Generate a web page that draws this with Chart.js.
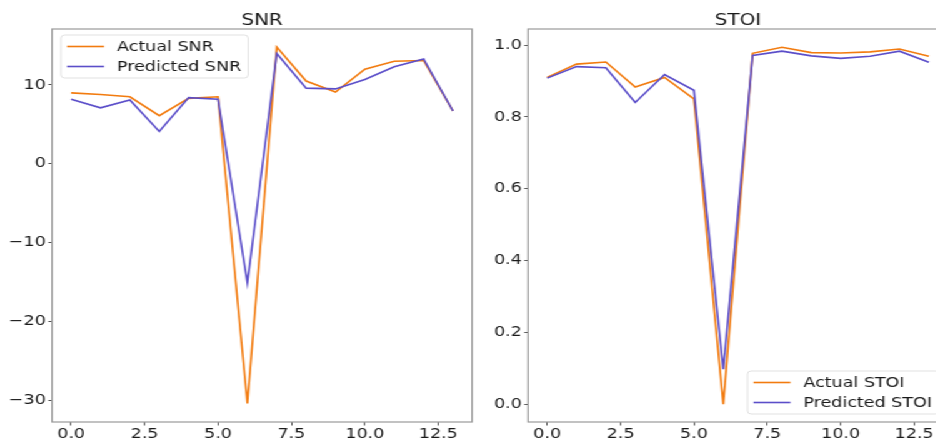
<!DOCTYPE html>
<html>
<head>
<meta charset="utf-8">
<script src="https://cdn.jsdelivr.net/npm/chart.js@4"></script>
<style>
  html, body { margin: 0; padding: 0; background: #fff; overflow: hidden; }
  #wrap { position: relative; width: 936px; height: 441px; overflow: hidden; }
  /* the reference figure is stretched sideways, so draw narrow and widen */
  #fig { position: absolute; left: 0; top: 0; width: 780px; height: 441px;
         transform: scaleX(1.25); transform-origin: 0 0; }
  #snrChart { position: absolute; left: 0; top: 0; }
  #stoiChart { position: absolute; left: 376px; top: 0; }
</style>
</head>
<body>
<div id="wrap">
  <div id="fig">
    <canvas id="snrChart" width="392" height="441"></canvas>
    <canvas id="stoiChart" width="404" height="441"></canvas>
  </div>
</div>
<script>
const frames = [0, 1, 2, 3, 4, 5, 6, 7, 8, 9, 10, 11, 12, 13];
const snrActual = [9.0, 8.8, 8.5, 6.1, 8.3, 8.5, -30.4, 14.8, 10.5, 9.1, 12.0, 13.0, 13.1, 6.7];
const snrPredicted = [8.2, 7.1, 8.1, 4.1, 8.4, 8.2, -15.1, 14.0, 9.6, 9.5, 10.7, 12.3, 13.3, 6.7];
const stoiActual = [0.910, 0.947, 0.953, 0.883, 0.910, 0.850, 0.0, 0.977, 0.994, 0.979, 0.978, 0.981, 0.989, 0.969];
const stoiPredicted = [0.908, 0.940, 0.937, 0.840, 0.918, 0.874, 0.097, 0.971, 0.983, 0.970, 0.963, 0.969, 0.983, 0.952];
const xTicks = [0, 2.5, 5, 7.5, 10, 12.5];
const snrTicks = [-30, -20, -10, 0, 10];
const stoiTicks = [0, 0.2, 0.4, 0.6, 0.8, 1.0];

const ORANGE = '#f27b0f';
const PURPLE = '#5b4ec9';
const FONT = '"DejaVu Sans", sans-serif';

Chart.defaults.font.family = FONT;
Chart.defaults.color = '#1a1a1a';

// box around the plot area and title above it
const frame = {
  id: 'frame',
  afterDraw(chart, args, opts) {
    const { ctx, chartArea: a } = chart;
    ctx.save();
    ctx.strokeStyle = '#9a9a9a';
    ctx.lineWidth = 1.2;
    ctx.strokeRect(a.left, a.top, a.right - a.left, a.bottom - a.top);
    ctx.fillStyle = '#1a1a1a';
    ctx.font = '16px ' + FONT;
    ctx.textAlign = 'center';
    ctx.textBaseline = 'alphabetic';
    ctx.fillText(opts.text, (a.left + a.right) / 2, 25);
    ctx.restore();
  }
};

// matplotlib style legend inside the axes
const legendBox = {
  id: 'legendBox',
  afterDatasetsDraw(chart, args, opts) {
    const { ctx, chartArea: a } = chart;
    const items = chart.data.datasets;
    ctx.save();
    ctx.font = '14px ' + FONT;
    const textW = Math.max(...items.map(d => ctx.measureText(d.label).width));
    const w = 44.8 + textW + 5.6, h = 43;
    const x = opts.corner === 'upper left' ? a.left + 7.2 : a.right - 7.2 - w;
    const y = opts.corner === 'upper left' ? a.top + 6 : a.bottom - 8 - h;
    ctx.beginPath();
    ctx.roundRect(x, y, w, h, 3);
    ctx.fillStyle = 'rgba(255,255,255,0.85)';
    ctx.fill();
    ctx.strokeStyle = '#d9d9d9';
    ctx.lineWidth = 0.8;
    ctx.stroke();
    items.forEach((d, i) => {
      const cy = y + 11.5 + i * 20;
      ctx.beginPath();
      ctx.moveTo(x + 4.8, cy);
      ctx.lineTo(x + 34.4, cy);
      ctx.strokeStyle = d.borderColor;
      ctx.lineWidth = d.borderWidth;
      ctx.stroke();
      ctx.fillStyle = '#1a1a1a';
      ctx.textBaseline = 'middle';
      ctx.fillText(d.label, x + 44.8, cy + 1);
    });
    ctx.restore();
  }
};

function points(ys) {
  return frames.map((x, i) => ({ x: x, y: ys[i] }));
}

function makeChart(id, title, corner, names, actual, predicted, yTicks, yMin, yMax, yFmt, yWidth, padRight) {
  return new Chart(document.getElementById(id).getContext('2d'), {
    type: 'line',
    data: {
      datasets: [
        { label: names[0], data: points(actual), borderColor: ORANGE, borderWidth: 1.6,
          pointRadius: 0, tension: 0, order: 1 },
        { label: names[1], data: points(predicted), borderColor: PURPLE, borderWidth: 1.6,
          pointRadius: 0, tension: 0, order: 0 }
      ]
    },
    options: {
      responsive: false,
      animation: false,
      devicePixelRatio: 1,
      layout: { padding: { left: 0, top: 29, right: padRight, bottom: 0 } },
      plugins: {
        legend: { display: false },
        tooltip: { enabled: false },
        frame: { text: title },
        legendBox: { corner: corner }
      },
      scales: {
        x: {
          type: 'linear', min: -0.65, max: 13.65,
          afterBuildTicks: s => { s.ticks = xTicks.map(v => ({ value: v })); },
          afterFit: s => { s.height = 19; },
          grid: { drawOnChartArea: false, drawTicks: true, tickLength: 3.5, tickColor: '#555' },
          border: { display: false },
          ticks: { font: { size: 14 }, padding: 0, maxRotation: 0, callback: v => v.toFixed(1) }
        },
        y: {
          type: 'linear', min: yMin, max: yMax,
          afterBuildTicks: s => { s.ticks = yTicks.map(v => ({ value: v })); },
          afterFit: s => { s.width = yWidth; },
          grid: { drawOnChartArea: false, drawTicks: true, tickLength: 3, tickColor: '#555' },
          border: { display: false },
          ticks: { font: { size: 14 }, padding: 2, callback: yFmt }
        }
      }
    },
    plugins: [frame, legendBox]
  });
}

const snrChart = makeChart('snrChart', 'SNR', 'upper left', ['Actual SNR', 'Predicted SNR'],
  snrActual, snrPredicted, snrTicks, -32.75, 17.1,
  v => v < 0 ? '\u2212' + Math.abs(v) : String(v), 41.6, 14.4);

const stoiChart = makeChart('stoiChart', 'STOI', 'lower right', ['Actual STOI', 'Predicted STOI'],
  stoiActual, stoiPredicted, stoiTicks, -0.0498, 1.0448,
  v => v.toFixed(1), 46.4, 21.6);
</script>
</body>
</html>
